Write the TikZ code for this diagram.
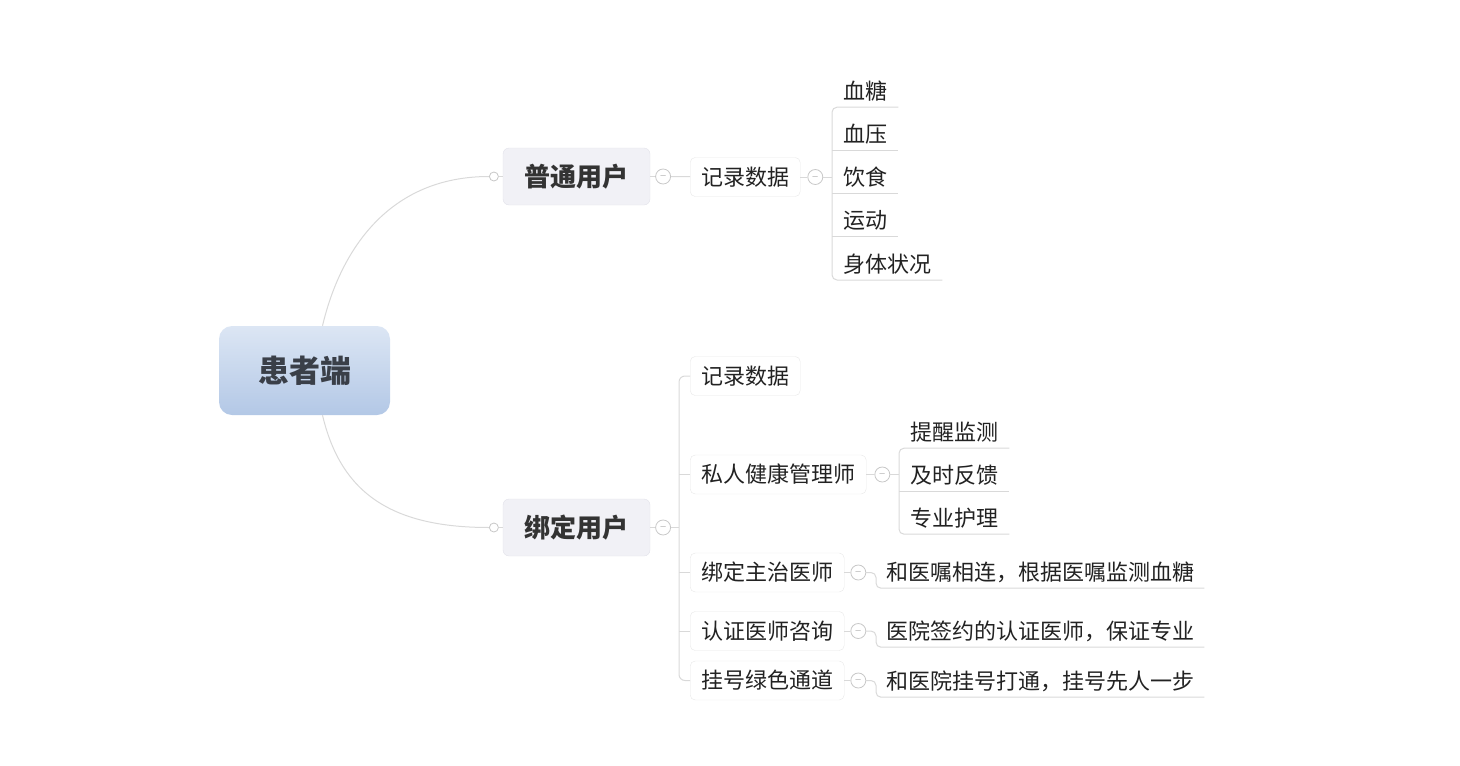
\documentclass[tikz,border=0pt]{standalone}
\usepackage{fontspec}
\newfontfamily\cjk{Noto Sans CJK SC}
\usetikzlibrary{positioning}
\definecolor{linkgray}{HTML}{D9D9D9}
\definecolor{foldline}{HTML}{C8C8C8}
\definecolor{boxline}{HTML}{E8E8E8}
\definecolor{topicfill}{HTML}{F1F1F6}
\definecolor{topicline}{HTML}{E2E2EA}
\definecolor{roottop}{HTML}{DCE6F4}
\definecolor{rootbot}{HTML}{B3C8E6}
\definecolor{darktext}{HTML}{222222}
\definecolor{topictext}{HTML}{333333}
\definecolor{roottext}{HTML}{3A3F48}

\begin{document}
\begin{tikzpicture}[x=1pt, y=-1pt,
  link/.style={draw=linkgray, line width=1pt},
  rootbox/.style={rounded corners=13pt, top color=roottop, bottom color=rootbot, draw=none, minimum width=171pt, minimum height=89pt, font=\cjk\bfseries\fontsize{31}{31}\selectfont, text=roottext},
  topic/.style={rounded corners=6pt, fill=topicfill, draw=topicline, minimum width=147pt, minimum height=57pt, font=\cjk\bfseries\fontsize{26}{26}\selectfont, text=topictext},
  sub/.style={rounded corners=5pt, fill=white, draw=boxline, minimum height=39pt, inner xsep=11pt, anchor=west, font=\cjk\fontsize{22}{22}\selectfont, text=darktext},
  leaf/.style={inner xsep=11pt, inner ysep=0pt, minimum height=32pt, anchor=west, font=\cjk\fontsize{22}{22}\selectfont, text=darktext},
  fold/.style={circle, draw=foldline, fill=white, minimum size=15pt, inner sep=0pt, line width=0.8pt, font=\fontsize{9}{9}\selectfont, text=gray},
  dot/.style={circle, draw=foldline, fill=white, minimum size=9pt, inner sep=0pt, line width=0.8pt}
]
\useasboundingbox (0,0) rectangle (1460,766);

% centre and main branches
\node[rootbox] (root) at (304.5,370.5) {患者端};
\node[topic] (pu) at (576.5,176.5) {普通用户};
\node[topic] (bd) at (576.5,527.5) {绑定用户};
\node[dot, left=4pt of pu] (o1) {};
\node[dot, left=4pt of bd] (o2) {};
\node[fold, right=5pt of pu] (m1) {$-$};
\node[fold, right=5pt of bd] (m2) {$-$};

% ordinary user
\node[sub] (r1) at (690,177) {记录数据};
\node[fold, right=7pt of r1] (m3) {$-$};
\foreach \t [count=\i from 0] in {血糖,血压,饮食,运动,身体状况}
  \node[leaf] (rec\i) at (832,{91+43.2*\i}) {\t};

% bound user
\node[sub] (b1) at (690,376) {记录数据};
\node[sub] (b2) at (690,474.5) {私人健康管理师};
\node[sub] (b3) at (690,572.5) {绑定主治医师};
\node[sub] (b4) at (690,631) {认证医师咨询};
\node[sub] (b5) at (690,680.5) {挂号绿色通道};
\node[fold, right=8pt of b2] (m4) {$-$};
\node[fold, right=6pt of b3] (m5) {$-$};
\node[fold, right=6pt of b4] (m6) {$-$};
\node[fold, right=6pt of b5] (m7) {$-$};
\foreach \t [count=\i from 0] in {提醒监测,及时反馈,专业护理}
  \node[leaf] (mgr\i) at (899,{432+43*\i}) {\t};
\node[leaf, inner xsep=10pt] (d1) at (876,572) {和医嘱相连，根据医嘱监测血糖};
\node[leaf, inner xsep=10pt] (d2) at (876,631) {医院签约的认证医师，保证专业};
\node[leaf, inner xsep=10pt] (d3) at (876,681) {和医院挂号打通，挂号先人一步};

% connectors
\draw[link] ([xshift=18pt]root.north) .. controls +(18,-76) and +(-100,0) .. (o1.west);
\draw[link] ([xshift=18pt]root.south) .. controls +(18,76) and +(-100,0) .. (o2.west);
\draw[link] (o1) -- (pu);
\draw[link] (o2) -- (bd);
\draw[link] (pu) -- (m1);
\draw[link] (bd) -- (m2);
\draw[link] (m1) -- (r1);
\draw[link] (r1) -- (m3);
\draw[link] (m3.east) -- (m3.east -| rec0.west);
\draw[link, rounded corners=5pt] (rec0.south east) -- (rec0.south west) -- (rec4.south west) -- (rec4.south east);
\foreach \n in {rec1,rec2,rec3}
  \draw[link] (\n.south west) -- (\n.south east);

\coordinate (t2) at ([xshift=-11pt]b1.west);
\draw[link, rounded corners=6pt] (b1.west) -- (t2) -- (t2 |- b5.west) -- (b5.west);
\foreach \b in {b2,b3,b4}
  \draw[link] (\b.west) -- (\b.west -| t2);
\draw[link] (m2.east) -- (m2.east -| t2);

\foreach \b/\m in {b2/m4,b3/m5,b4/m6,b5/m7}
  \draw[link] (\b) -- (\m);
\draw[link] (m4.east) -- (m4.east -| mgr0.west);
\draw[link, rounded corners=5pt] (mgr0.south east) -- (mgr0.south west) -- (mgr2.south west) -- (mgr2.south east);
\draw[link] (mgr1.south west) -- (mgr1.south east);
\foreach \m/\d in {m5/d1,m6/d2,m7/d3}
  \draw[link, rounded corners=5pt] (\m.east) -| (\d.south west) -- (\d.south east);
\end{tikzpicture}
\end{document}
